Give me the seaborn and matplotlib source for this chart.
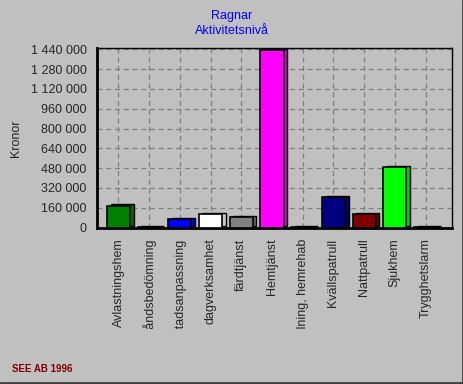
import matplotlib
matplotlib.use("Agg")
import matplotlib.pyplot as plt
import seaborn as sns
import numpy as np
import pandas as pd
from matplotlib.transforms import Bbox
from matplotlib.lines import Line2D

# data
categories = ['Avlastningshem', 'Biståndsbedömning', 'Bostadsanpassning', 'dagverksamhet',
              'färdtjänst', 'Hemtjänst', 'inskolning, hemrehab', 'Kvällspatrull',
              'Nattpatrull', 'Sjukhem', 'Trygghetslarm']
kronor = [178000, 3000, 72000, 108000, 87000, 1432000, 3000, 248000, 111000, 492000, 3000]
colors = ['#008000', '#ffff00', '#0000ff', '#ffffff', '#808080', '#ff00ff',
          '#008080', '#000080', '#800000', '#00ff00', '#808000']
yticks = np.arange(0, 1440001, 160000)

df = pd.DataFrame({'kategori': categories, 'kronor': kronor})

sns.set_style("white")
plt.rcParams['font.family'] = ['Liberation Sans', 'DejaVu Sans']

fig = plt.figure(figsize=(4.64, 3.84), dpi=100, facecolor='#c0c0c0')
ax = fig.add_axes([0.209, 0.406, 0.765, 0.469])
ax.set_facecolor('#c0c0c0')

# depth side for the 3D look
depth_x = 0.12
depth_y = 9000
x = np.arange(len(categories))
for i, (v, c) in enumerate(zip(kronor, colors)):
    rgb = np.array(matplotlib.colors.to_rgb(c)) * 0.8
    ax.bar(x[i] + depth_x, v, width=0.75, bottom=depth_y, color=rgb,
           edgecolor='black', linewidth=1, zorder=2)

sns.barplot(data=df, x='kategori', y='kronor', hue='kategori', palette=colors,
            legend=False, width=0.75, edgecolor='black', linewidth=1.2,
            saturation=1, ax=ax, zorder=3)

ax.set_xlim(-0.7, 10.86)
ax.set_ylim(-4000, 1450000)
ax.set_yticks(yticks)
ax.set_yticklabels([f"{v:,}".replace(',', ' ') for v in yticks], fontsize=9)
ax.set_xticks(x)
ax.set_xticklabels(categories, rotation=90, fontsize=9, va='top')
ax.grid(True, color='#808080', linestyle=(0, (4, 3)), linewidth=0.9)
ax.set_axisbelow(True)
ax.set_xlabel('')
ax.set_ylabel('Kronor', fontsize=9, labelpad=6)
ax.tick_params(axis='both', direction='out', length=4, color='black')

for s in ['left', 'bottom']:
    ax.spines[s].set_linewidth(2)
    ax.spines[s].set_color('black')
for s in ['top', 'right']:
    ax.spines[s].set_linewidth(1)
    ax.spines[s].set_color('black')

# long tick labels are cut at the bottom of the drawing area
clip = Bbox.from_extents(0, 55, 464, 384)
for lab in ax.get_xticklabels():
    lab.set_clip_box(clip)
    lab.set_clip_on(True)

fig.text(0.5, 0.958, 'Ragnar', color='#0000ff', ha='center', va='center', fontsize=9)
fig.text(0.5, 0.919, 'Aktivitetsnivå', color='#0000ff', ha='center', va='center', fontsize=9)
fig.text(0.025, 0.04, 'SEE AB 1996', color='#800000', fontsize=7, fontweight='bold',
         ha='left', va='center')

# window border
fig.add_artist(Line2D([0.997, 0.997], [0, 1], color='#404040', lw=2, transform=fig.transFigure))
fig.add_artist(Line2D([0, 1], [0.003, 0.003], color='#404040', lw=2, transform=fig.transFigure))

fig.savefig('out.png', dpi=100, facecolor=fig.get_facecolor())
